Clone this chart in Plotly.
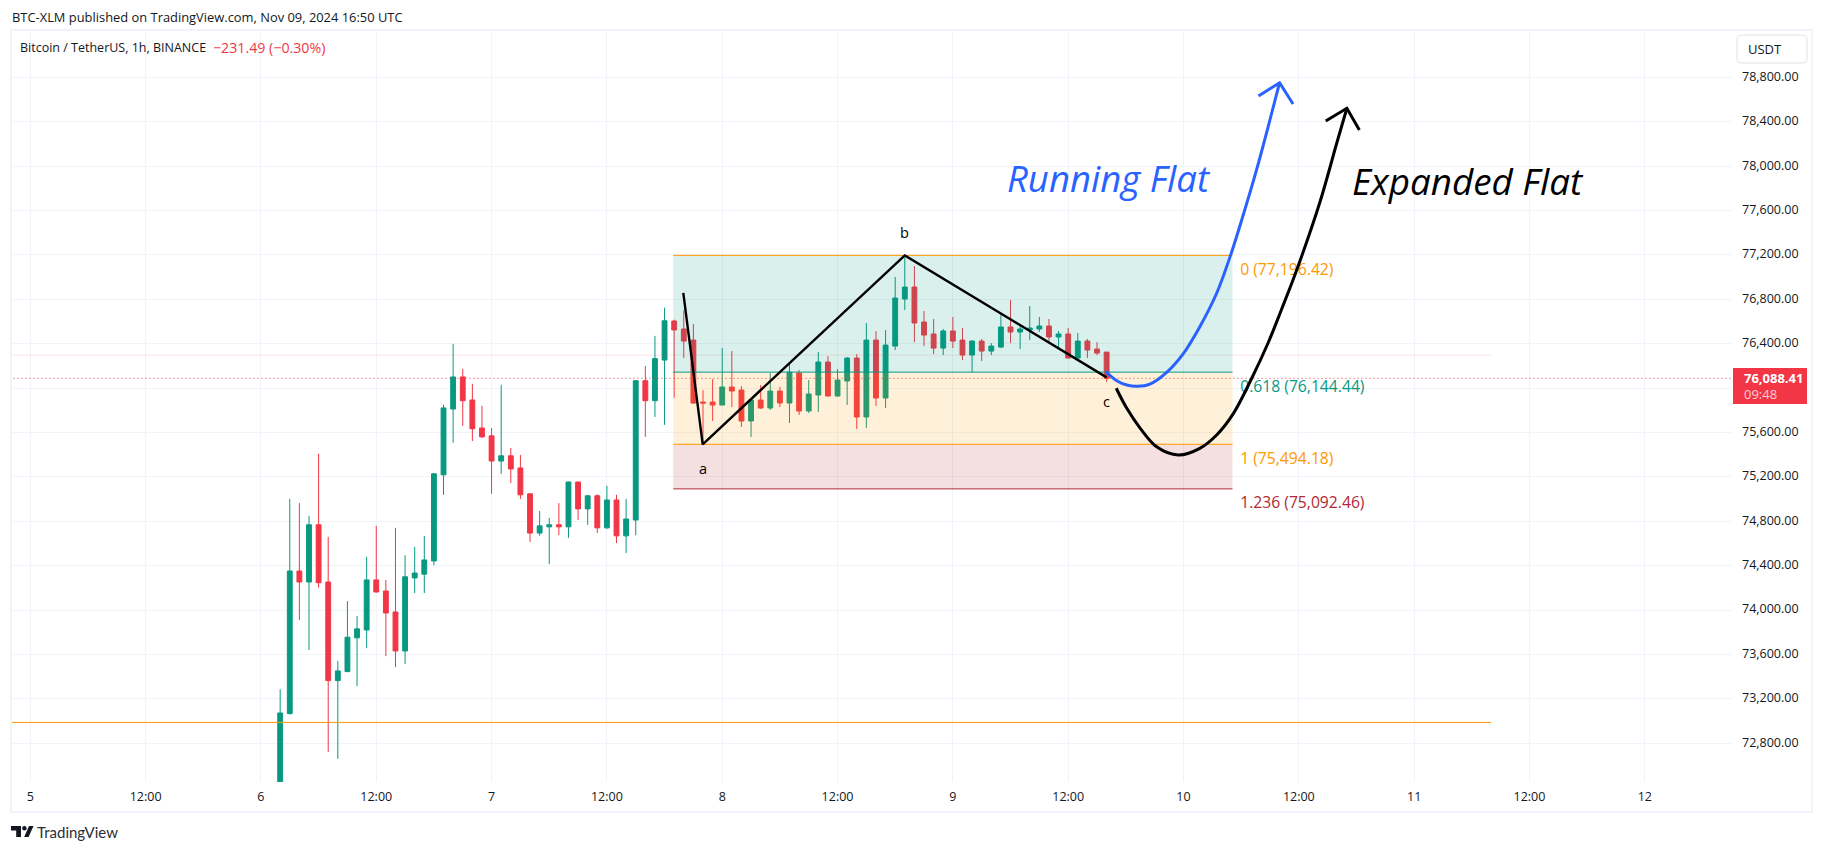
import pandas as pd
import plotly.graph_objects as go

W, H = 1824, 852
PL, PR, PT, PB = 12, 1732, 32, 782   # pane in page pixels

# ---------- data ----------
first_bar = "2024-11-06 02:00"
opens = [72300,73067,74352,74253,74769,74253,73365,73446,73750,73821,74272,74172,73983,73632,74290,74324,74443,75219,75812,76101,
         75893,75641,75570,75343,75390,75281,75048,74694,74750,74769,74750,75154,74912,75030,74741,74992,74669,74812,76067,75887,
         76253,76605,76533,76433,75875,75875,75848,76010,75983,75704,75893,75821,75974,75866,76136,75794,75938,76235,75929,76064,
         76271,75740,76433,75911,76379,76803,76911,76596,76488,76361,76515,76433,76298,76424,76334,76370,76551,76506,76524,76533,
         76560,76461,76488,76271,76424,76352,76325]
highs = [73287,75002,74964,74849,75409,74660,73542,74082,73946,74480,74759,74272,74741,74495,74570,74669,75235,75850,76399,76173,
         76039,75840,75641,76030,75461,75399,75052,74893,74831,74964,75158,75158,75039,75045,75120,75039,75002,76070,76201,76471,
         76725,76617,76700,76578,75983,76082,76361,76334,76019,75896,76028,76136,76010,76226,76163,76073,76325,76289,76172,76280,
         76307,76587,76515,76524,77001,77196,77100,76695,76623,76533,76641,76542,76433,76443,76406,76659,76794,76560,76740,76641,
         76623,76515,76542,76497,76443,76415,76325]
lows = [72250,73060,73911,73641,74203,72722,72660,73440,73315,73657,74160,73585,73486,73514,74154,74154,74405,75039,75508,75660,
        75523,75551,75048,75228,75145,75002,74613,74669,74415,74675,74651,74812,74769,74694,74732,74604,74514,74675,75561,75741,
        75669,75914,76271,75857,75490,75704,75845,75830,75650,75560,75812,75803,75830,75686,75758,75776,75785,75925,75925,75848,
        75632,75641,75839,75821,76343,76704,76415,76379,76307,76298,76361,76253,76144,76244,76298,76361,76406,76352,76433,76506,
        76415,76361,76268,76268,76271,76298,76055]
closes = [73073,74352,74253,74769,74247,73365,73452,73756,73831,74272,74163,73974,73632,74300,74334,74452,75228,75822,76101,75887,
          75635,75561,75343,75390,75272,75039,74694,74759,74769,74750,75154,74912,75030,74741,74992,74669,74821,76067,75887,76266,
          76607,76524,76424,75866,75866,75848,76010,75974,75704,75893,75821,75974,75866,76144,75794,75947,76235,75929,76073,76271,
          75740,76433,75911,76388,76812,76911,76587,76478,76361,76515,76424,76298,76424,76334,76379,76551,76506,76533,76542,76560,
          76461,76488,76271,76424,76343,76316,76088.41]
assert len(opens) == len(highs) == len(lows) == len(closes) == 87

fib_levels = [77196.42, 76144.44, 75494.18, 75092.46]
fib_names = ["0", "0.618", "1", "1.236"]
fib_hours = [66.9, 125.1]          # hours after Nov 5 00:00
last_price = 76088.41
support_price = 72988
faint_price = 76298
hline_end_hour = 152

wave_hours = [67.95, 69.97, 91.0, 112.0]
wave_prices = [76859, 75494, 77196, 76097]

blue_hours = [111.9,113.05,114.1,115.2,116.5,118.25,120.0,121.7,123.45,124.85,126.2,127.6,128.8,130.0]
blue_prices = [76148,76067,76028,76017,76037,76143,76314,76554,76855,77185,77556,77966,78353,78752]
blue_head_hours = [127.8,130.0,131.4]
blue_head_prices = [78633,78752,78560]

black_hours = [113.0,114.1,115.5,117.2,119.45,121.7,123.45,125.2,127.1,128.8,130.2,131.8,134.2,135.95,137.0]
black_prices = [75999,75818,75638,75472,75398,75458,75578,75773,76089,76407,76709,77069,77677,78209,78522]
black_head_hours = [134.8,137.0,138.3]
black_head_prices = [78407,78522,78326]

tick_prices = list(range(72800, 79200, 400))
tick_hours = list(range(0, 169, 12))
tick_labels = ["5","12:00","6","12:00","7","12:00","8","12:00","9","12:00","10","12:00","11","12:00","12"]

# ---------- helpers ----------
ORIGIN = pd.Timestamp("2024-11-05 00:00")
def T(hours):
    return [ORIGIN + pd.Timedelta(hours=float(h)) for h in hours]
def px(x): return (x - PL) / (PR - PL)
def py(y): return 1 - (y - PT) / (PB - PT)

GREEN, RED, ORANGE, DARKRED, BLUE = "#089981", "#F23645", "#FF9800", "#B22833", "#2962FF"
TXT = "#131722"
FONT = "Open Sans"

dates = pd.date_range(first_bar, periods=len(opens), freq="h")
X0, X1 = T(fib_hours)

fig = go.Figure()
fig.add_trace(go.Candlestick(
    x=dates, open=opens, high=highs, low=lows, close=closes, whiskerwidth=0,
    increasing=dict(line=dict(color=GREEN, width=1), fillcolor=GREEN),
    decreasing=dict(line=dict(color=RED, width=1), fillcolor=RED),
    showlegend=False, hoverinfo="skip"))

def line(xs, ys, color, width, dash=None, shape="linear"):
    fig.add_trace(go.Scatter(x=xs, y=ys, mode="lines", showlegend=False, hoverinfo="skip",
                             line=dict(color=color, width=width, dash=dash, shape=shape)))

def band(top, bottom, fill):
    fig.add_trace(go.Scatter(x=[X0, X1, X1, X0, X0], y=[top, top, bottom, bottom, top], mode="lines",
                             fill="toself", fillcolor=fill, line=dict(width=0), showlegend=False, hoverinfo="skip"))

# horizontal levels
ends = T([-3, hline_end_hour])
line(ends, [faint_price]*2, "rgba(242,54,69,0.13)", 1)
line(ends, [support_price]*2, ORANGE, 1)

# fib zones
band(fib_levels[0], fib_levels[1], "rgba(8,153,129,0.15)")
band(fib_levels[1], fib_levels[2], "rgba(255,152,0,0.15)")
band(fib_levels[2], fib_levels[3], "rgba(178,40,51,0.15)")
fib_colors = [ORANGE, GREEN, ORANGE, DARKRED]
for lv, c in zip(fib_levels, fib_colors):
    line([X0, X1], [lv, lv], c, 1)

line(T([-3, 180]), [last_price]*2, RED, 1, dash="1px 3px")

# fib labels (under the curves)
fig.add_trace(go.Scatter(
    x=T([fib_hours[1] + 0.8]*4), y=[lv - 140 for lv in fib_levels], mode="text",
    text=[f"{n} ({lv:,.2f})" for n, lv in zip(fib_names, fib_levels)],
    textposition="middle right", textfont=dict(family=FONT, size=15.7, color=fib_colors),
    showlegend=False, hoverinfo="skip"))

# wave
line(T(wave_hours), wave_prices, "#000000", 2.4)
# curves
line(T(black_hours), black_prices, "#000000", 3, shape="spline")
line(T(black_head_hours), black_head_prices, "#000000", 3)
line(T(blue_hours), blue_prices, BLUE, 3, shape="spline")
line(T(blue_head_hours), blue_head_prices, BLUE, 3)

def note(x, y, text, size=13, color=TXT, anchor="left", family=FONT, **kw):
    fig.add_annotation(x=px(x), y=py(y), xref="paper", yref="paper", text=text, showarrow=False,
                       xanchor=anchor, yanchor="middle", font=dict(family=family, size=size, color=color), **kw)

# wave letters
for h, p, s, shift in zip(wave_hours[1:], wave_prices[1:], ["a", "b", "c"], [-24, 23, -24]):
    fig.add_annotation(x=T([h])[0], y=p, text=s, showarrow=False, yshift=shift, yanchor="middle",
                       font=dict(family=FONT, size=14.5, color="#000000"))

shapes = []
def rect_px(x0, y0, x1, y1, **kw):
    shapes.append(dict(type="rect", xref="paper", yref="paper", x0=px(x0), x1=px(x1), y0=py(y0), y1=py(y1), **kw))

# frame
rect_px(11, 30, 1812, 812, line=dict(color="#f0f3fa", width=2), layer="below")

# price tag
rect_px(1733, 368, 1807, 404, fillcolor=RED, line=dict(width=0), layer="above")
note(1742, 378, "<b>76,088.41</b>", size=13, color="#ffffff")
note(1742, 394, "09:48", size=13, color="#fbd0d5")

# USDT button
def rounded(x0, y0, x1, y1, r):
    pts = (f"M{px(x0+r)},{py(y0)} L{px(x1-r)},{py(y0)} Q{px(x1)},{py(y0)} {px(x1)},{py(y0+r)} "
           f"L{px(x1)},{py(y1-r)} Q{px(x1)},{py(y1)} {px(x1-r)},{py(y1)} L{px(x0+r)},{py(y1)} "
           f"Q{px(x0)},{py(y1)} {px(x0)},{py(y1-r)} L{px(x0)},{py(y0+r)} Q{px(x0)},{py(y0)} {px(x0+r)},{py(y0)} Z")
    return pts
shapes.append(dict(type="path", xref="paper", yref="paper", path=rounded(1737, 35, 1807, 63, 5),
                   line=dict(color="#e0e3eb", width=1), fillcolor="#ffffff"))
note(1746, 49, "USDT", size=13)

# texts
note(9.5, 17, "BTC-XLM published on TradingView.com, Nov 09, 2024 16:50 UTC", size=12.9)
note(18, 47, "Bitcoin / TetherUS, 1h, BINANCE", size=12.5)
note(211, 47, "−231.49 (−0.30%)", size=14.2, color=RED)
note(1005, 178, "<i>Running Flat</i>", size=36.5, color=BLUE)
note(1350, 181, "<i>Expanded Flat</i>", size=36.8, color="#000000")

# TradingView logo
def poly(points, color):
    d = "M" + " L".join(f"{px(x)},{py(y)}" for x, y in points) + " Z"
    shapes.append(dict(type="path", xref="paper", yref="paper", path=d, fillcolor=color, line=dict(width=0)))
poly([(11, 826), (21, 826), (21, 837), (16.2, 837), (16.2, 830.6), (11, 830.6)], "#131722")
poly([(29, 826), (33.5, 826), (28.6, 837), (24.2, 837)], "#131722")
shapes.append(dict(type="circle", xref="paper", yref="paper", x0=px(22.2), x1=px(26.6), y0=py(826), y1=py(830.4),
                   fillcolor="#131722", line=dict(width=0)))
note(35, 832, "TradingView", size=15, color="#2a2e39", family="Lato")

PX0, PXH = 30.3, 9.61            # page x of Nov 5 00:00, pixels per hour
PY0, PYU = 77.4, 0.11098         # page y of 78,800, pixels per dollar
x_range = T([(PL - PX0) / PXH, (PR - PX0) / PXH])
y_top = 78800 + (PY0 - PT) / PYU
y_bottom = 78800 - (PB - PY0) / PYU

# 76,000 sits behind the last-price tag, as in the reference
y_ticktext = ["" if p == 76000 else f"{p:,.2f}" for p in tick_prices]

fig.update_layout(
    width=W, height=H, autosize=False,
    margin=dict(l=PL, r=W - PR, t=PT, b=H - PB, pad=0),
    paper_bgcolor="#ffffff", plot_bgcolor="#ffffff",
    showlegend=False, boxgap=0.28, shapes=shapes, dragmode=False,
    font=dict(family=FONT, size=13, color=TXT),
    xaxis=dict(type="date", range=x_range, rangeslider=dict(visible=False),
               tickmode="array", tickvals=T(tick_hours), ticktext=tick_labels,
               tickangle=0, showgrid=True, gridcolor="#f0f3fa", gridwidth=1, zeroline=False,
               showline=False, ticks="", ticklabelstandoff=5,
               tickfont=dict(family=FONT, size=12.5, color=TXT)),
    yaxis=dict(side="right", range=[y_bottom, y_top], tickmode="array", tickvals=tick_prices,
               ticktext=y_ticktext, showgrid=True, gridcolor="#f0f3fa", gridwidth=1,
               zeroline=False, showline=False, ticks="", ticklabelstandoff=9, ticklabelshift=-1,
               tickfont=dict(family=FONT, size=12.5, color=TXT)),
)

fig.write_html("out.html", config=dict(displayModeBar=False),
               post_script="document.body.style.margin='0';document.body.style.overflow='hidden';")
